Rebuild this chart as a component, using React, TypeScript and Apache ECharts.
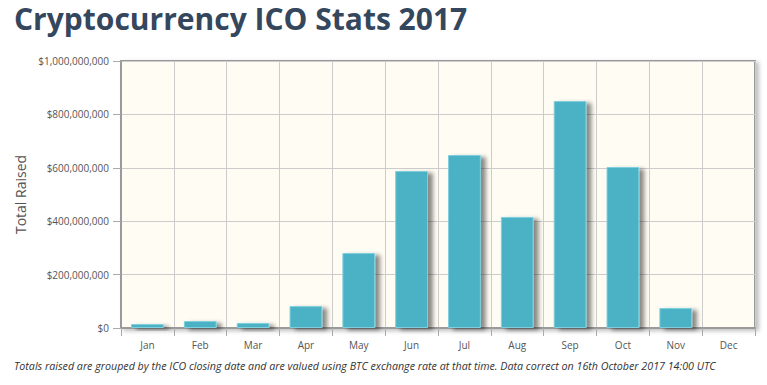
import React, { useEffect, useRef } from "react";
import * as echarts from "echarts";

const months = ["Jan", "Feb", "Mar", "Apr", "May", "Jun", "Jul", "Aug", "Sep", "Oct", "Nov", "Dec"];
const totalRaised = [15000000, 26000000, 19000000, 82000000, 281000000, 588000000, 648000000, 416000000, 850000000, 603000000, 75000000, 0];
const yTicks = { min: 0, max: 1000000000, interval: 200000000 };

const titleText = "Cryptocurrency ICO Stats 2017";
const footerText =
  "Totals raised are grouped by the ICO closing date and are valued using BTC exchange rate at that time. Data correct on 16th October 2017 14:00 UTC";

export default function App() {
  const ref = useRef<HTMLDivElement>(null);
  useEffect(() => {
    document.body.style.margin = "0";
    const chart = echarts.init(ref.current!, null, { renderer: "svg" });
    chart.setOption({
      animation: false,
      backgroundColor: "#ffffff",
      textStyle: { fontFamily: "Open Sans" },
      graphic: [
        {
          type: "text",
          left: 14,
          top: 0,
          style: {
            text: titleText,
            fontSize: 30,
            fontWeight: "bold",
            fontFamily: "Open Sans",
            lineHeight: 36,
            fill: "#34475d",
          },
        },
        {
          type: "text",
          left: 14,
          top: 360,
          style: {
            text: footerText,
            font: "italic 10.7px 'Open Sans'",
            fill: "#333333",
          },
        },
      ],
      grid: {
        left: 121,
        right: 12,
        top: 61,
        bottom: 57,
        show: true,
        backgroundColor: "#fffcf4",
        borderColor: "#9a9a9a",
        borderWidth: 2,
        shadowColor: "rgba(0,0,0,0.25)",
        shadowBlur: 4,
        shadowOffsetX: 3,
        shadowOffsetY: 2,
      },
      xAxis: {
        type: "category",
        data: months,
        boundaryGap: true,
        axisLine: { show: true, lineStyle: { color: "#9a9a9a", width: 2 } },
        axisTick: { show: true, length: 8, lineStyle: { color: "#aaaaaa" } },
        axisLabel: { color: "#555555", fontSize: 10, margin: 12, fontFamily: "Open Sans" },
        splitLine: { show: true, lineStyle: { color: "#cccccc", width: 1 } },
      },
      yAxis: {
        type: "value",
        min: yTicks.min,
        max: yTicks.max,
        interval: yTicks.interval,
        name: "Total Raised",
        nameLocation: "middle",
        nameGap: 93,
        nameTextStyle: { color: "#555555", fontSize: 14, fontFamily: "Open Sans" },
        axisLine: { show: true, lineStyle: { color: "#9a9a9a", width: 2 } },
        axisTick: { show: true, length: 8, lineStyle: { color: "#aaaaaa" } },
        axisLabel: {
          color: "#555555",
          fontSize: 10,
          margin: 12,
          fontFamily: "Open Sans",
          formatter: (v: number) => "$" + v.toLocaleString("en-US"),
        },
        splitLine: { show: true, lineStyle: { color: "#cccccc", width: 1 } },
      },
      series: [
        {
          type: "bar",
          data: totalRaised,
          barWidth: "62%",
          itemStyle: {
            color: "#4bb1c5",
            borderColor: "#7fd0de",
            borderWidth: 1,
            shadowColor: "rgba(0,0,0,0.45)",
            shadowBlur: 4,
            shadowOffsetX: 5,
            shadowOffsetY: 2,
          },
        },
      ],
    });
    return () => chart.dispose();
  }, []);
  return <div ref={ref} style={{ width: 767, height: 385 }} />;
}
